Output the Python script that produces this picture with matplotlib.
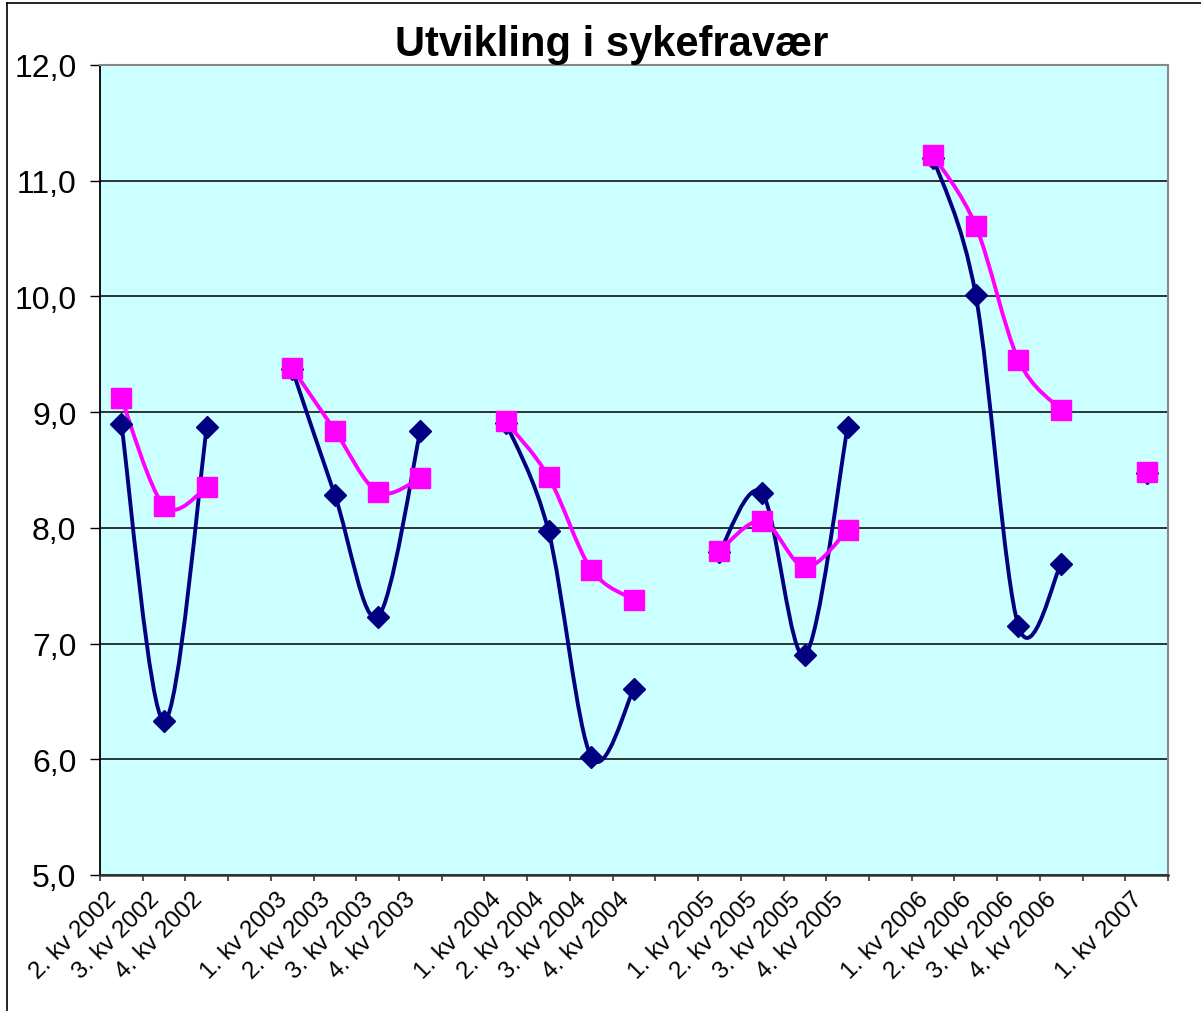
import numpy as np
import matplotlib.pyplot as plt
from matplotlib.path import Path
from matplotlib.patches import PathPatch
from matplotlib.ticker import FuncFormatter

plt.rcParams['font.family'] = ['Liberation Sans', 'DejaVu Sans']

# kategorier (tomme plasser mellom årene)
kategorier = ["2. kv 2002", "3. kv 2002", "4. kv 2002", "",
              "1. kv 2003", "2. kv 2003", "3. kv 2003", "4. kv 2003", "",
              "1. kv 2004", "2. kv 2004", "3. kv 2004", "4. kv 2004", "",
              "1. kv 2005", "2. kv 2005", "3. kv 2005", "4. kv 2005", "",
              "1. kv 2006", "2. kv 2006", "3. kv 2006", "4. kv 2006", "",
              "1. kv 2007"]

nan = np.nan
serie_1 = [8.90, 6.33, 8.87, nan,
           9.37, 8.28, 7.23, 8.84, nan,
           8.91, 7.97, 6.02, 6.61, nan,
           7.79, 8.30, 6.90, 8.87, nan,
           11.20, 10.01, 7.15, 7.69, nan,
           8.47]
serie_2 = [9.12, 8.19, 8.35, nan,
           9.38, 8.84, 8.31, 8.43, nan,
           8.92, 8.44, 7.64, 7.38, nan,
           7.80, 8.06, 7.66, 7.98, nan,
           11.22, 10.61, 9.45, 9.02, nan,
           8.48]

y_ticks = [5, 6, 7, 8, 9, 10, 11, 12]


def glatt_linje(ax, x, y, farge):
    # Excel-aktig glattet linje, tegnet som bezier-kurver per sammenhengende bit
    x = np.asarray(x, float)
    y = np.asarray(y, float)
    ok = ~np.isnan(y)
    biter = []
    start = None
    for i in range(len(y)):
        if ok[i] and start is None:
            start = i
        if (not ok[i] or i == len(y) - 1) and start is not None:
            slutt = i if not ok[i] else i + 1
            biter.append((start, slutt))
            start = None
    for a, b in biter:
        px, py = x[a:b], y[a:b]
        n = len(px)
        if n < 2:
            continue
        verts = [(px[0], py[0])]
        codes = [Path.MOVETO]
        for i in range(n - 1):
            i0 = max(i - 1, 0)
            i3 = min(i + 2, n - 1)
            c1 = (px[i] + (px[i + 1] - px[i0]) / 6, py[i] + (py[i + 1] - py[i0]) / 6)
            c2 = (px[i + 1] - (px[i3] - px[i]) / 6, py[i + 1] - (py[i3] - py[i]) / 6)
            verts += [c1, c2, (px[i + 1], py[i + 1])]
            codes += [Path.CURVE4] * 3
        ax.add_patch(PathPatch(Path(verts, codes), fill=False, edgecolor=farge,
                               lw=2.8, capstyle='round', joinstyle='round', zorder=3))


fig = plt.figure(figsize=(12.01, 10.12), dpi=100)
ax = fig.add_axes([100 / 1201, 1 - 876 / 1012, 1068 / 1201, 810 / 1012])
ax.set_facecolor('#ccffff')

x = np.arange(len(kategorier))
glatt_linje(ax, x, serie_1, '#000080')
ax.plot(x, serie_1, ls='none', marker='D', ms=11, color='#000080', zorder=4)
glatt_linje(ax, x, serie_2, '#ff00ff')
ax.plot(x, serie_2, ls='none', marker='s', ms=14, color='#ff00ff', zorder=5)

ax.set_xlim(-0.5, len(kategorier) - 0.5)
ax.set_ylim(5, 12)
ax.set_yticks(y_ticks)
ax.yaxis.set_major_formatter(FuncFormatter(lambda v, p: f"{v:.1f}".replace('.', ',')))
ax.tick_params(axis='y', labelsize=23, length=7, width=1, pad=10)
ax.grid(axis='y', color='#222222', lw=1.3)
ax.set_axisbelow(True)

ax.set_xticks(np.arange(len(kategorier) + 1) - 0.5)
ax.set_xticklabels([])
ax.tick_params(axis='x', which='major', length=4.5, width=1.2, color='#333333')
ax.set_xticks(x, minor=True)
ax.set_xticklabels(kategorier, minor=True, rotation=45, ha='right', fontsize=17.5)
ax.tick_params(axis='x', which='minor', length=0, pad=9)

for s in ['top', 'right']:
    ax.spines[s].set_color('#888888')
    ax.spines[s].set_linewidth(1.5)
ax.spines['left'].set_color('black')
ax.spines['left'].set_linewidth(1.3)
ax.spines['bottom'].set_color('#333333')
ax.spines['bottom'].set_linewidth(1.8)

fig.text(612 / 1201, 1 - 45 / 1012, "Utvikling i sykefravær", ha='center', va='center',
         fontsize=30, fontweight='bold')

# ramme rundt diagrammet (kun venstre og topp synlig)
fig.add_artist(plt.Line2D([7 / 1201, 7 / 1201], [0, 1 - 4 / 1012], color='black', lw=1.2))
fig.add_artist(plt.Line2D([7 / 1201, 1], [1 - 4 / 1012, 1 - 4 / 1012], color='black', lw=1.2))

fig.savefig("out.png", dpi=100)
